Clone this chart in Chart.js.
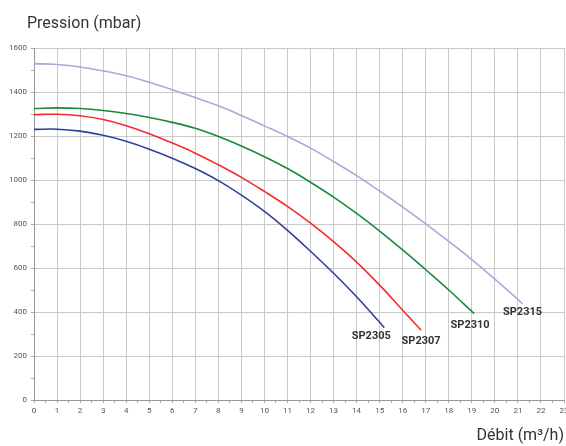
<!DOCTYPE html>
<html>
<head>
<meta charset="utf-8">
<script src="https://cdn.jsdelivr.net/npm/chart.js@4.4.1/dist/chart.umd.min.js"></script>
<style>
  body { margin: 0; background: #fff; }
  #wrap { width: 566px; height: 446px; position: relative; }
</style>
</head>
<body>
<div id="wrap"><canvas id="pump-chart" width="566" height="446"></canvas></div>
<script>
// Pump curves: pressure (mbar) vs flow (m3/h)

const seriesNames = ['SP2305', 'SP2307', 'SP2310', 'SP2315'];
const seriesColors = ['#2e409e', '#f22c2c', '#178a3e', '#b8a2d9'];

const flowSP2305 = [0, 1, 2, 3, 4, 5, 6, 7, 8, 9, 10, 11, 12, 13, 14, 15, 15.2];
const presSP2305 = [1230, 1231, 1222, 1203, 1176, 1140, 1099, 1052, 997, 931, 857, 771, 676, 576, 469, 353, 329];

const flowSP2307 = [0, 1, 2, 3, 4, 5, 6, 7, 8, 9, 10, 11, 12, 13, 14, 15, 16, 16.8];
const presSP2307 = [1297, 1299, 1292, 1275, 1247, 1210, 1168, 1122, 1069, 1012, 948, 880, 804, 720, 627, 522, 408, 317];

const flowSP2310 = [0, 1, 2, 3, 4, 5, 6, 7, 8, 9, 10, 11, 12, 13, 14, 15, 16, 17, 18, 19.1];
const presSP2310 = [1325, 1328, 1325, 1316, 1302, 1284, 1262, 1235, 1198, 1155, 1106, 1052, 990, 922, 848, 768, 682, 592, 500, 393];

const flowSP2315 = [0, 1, 2, 3, 4, 5, 6, 7, 8, 9, 10, 11, 12, 13, 14, 15, 16, 17, 18, 19, 20, 21, 21.2];
const presSP2315 = [1529, 1525, 1514, 1496, 1474, 1444, 1410, 1375, 1337, 1293, 1246, 1198, 1145, 1084, 1020, 950, 877, 801, 721, 638, 549, 457, 437];

const xTickMax = 23;
const yTickMax = 1600;

// label offsets from the last point of each curve
const labelOffsets = [[-13, 9], [0, 11], [-4, 12], [0, 8]];

const flows = [flowSP2305, flowSP2307, flowSP2310, flowSP2315];
const pressures = [presSP2305, presSP2307, presSP2310, presSP2315];

const datasets = seriesNames.map((name, i) => ({
    label: name,
    data: flows[i].map((x, j) => ({ x: x, y: pressures[i][j] })),
    borderColor: seriesColors[i],
    borderWidth: 1.6,
    pointRadius: 0,
    fill: false,
    tension: 0.4
}));

const curveLabels = {
    id: 'curveLabels',
    afterDatasetsDraw(chart) {
        const ctx = chart.ctx;
        ctx.save();
        ctx.font = 'bold 11px Roboto';
        ctx.fillStyle = '#333';
        ctx.textAlign = 'center';
        ctx.textBaseline = 'middle';
        chart.data.datasets.forEach((ds, i) => {
            const pts = chart.getDatasetMeta(i).data;
            const last = pts[pts.length - 1];
            ctx.fillText(ds.label, last.x + labelOffsets[i][0], last.y + labelOffsets[i][1]);
        });
        ctx.restore();
    }
};

const yTitle = {
    id: 'yTitle',
    afterDraw(chart) {
        const ctx = chart.ctx;
        ctx.save();
        ctx.font = '16px Roboto';
        ctx.fillStyle = '#333';
        ctx.textAlign = 'left';
        ctx.textBaseline = 'alphabetic';
        ctx.fillText('Pression (mbar)', 27, 28);
        ctx.restore();
    }
};

const ctx = document.getElementById('pump-chart').getContext('2d');

new Chart(ctx, {
    type: 'line',
    data: { datasets: datasets },
    plugins: [curveLabels, yTitle],
    options: {
        responsive: false,
        animation: false,
        layout: {
            padding: { top: 48, right: 2, left: 0, bottom: 0 }
        },
        plugins: {
            legend: { display: false },
            tooltip: { enabled: false }
        },
        scales: {
            x: {
                type: 'linear',
                min: 0,
                max: xTickMax,
                afterFit: function(scale) {
                    scale.height = 46;
                    scale.paddingLeft = 0;
                    scale.paddingRight = 0;
                },
                ticks: {
                    stepSize: 0.5,
                    autoSkip: false,
                    maxRotation: 0,
                    padding: 3,
                    color: '#555',
                    font: { family: 'Roboto', size: 8 },
                    callback: function(v) {
                        return Number.isInteger(v) ? String(v) : '';
                    }
                },
                grid: {
                    color: function(c) {
                        return Number.isInteger(c.tick.value) ? '#cacaca' : 'rgba(0,0,0,0)';
                    },
                    tickColor: '#aaa',
                    tickLength: 3
                },
                border: { color: '#999' },
                title: {
                    display: true,
                    text: 'Débit (m³/h)',
                    align: 'end',
                    color: '#333',
                    font: { family: 'Roboto', size: 16 },
                    padding: { top: 0, bottom: 0 }
                }
            },
            y: {
                min: 0,
                max: yTickMax,
                afterFit: function(scale) {
                    scale.width = 34;
                    scale.paddingTop = 0;
                    scale.paddingBottom = 0;
                },
                ticks: {
                    stepSize: 100,
                    autoSkip: false,
                    padding: 4,
                    color: '#555',
                    font: { family: 'Roboto', size: 8 },
                    callback: function(v) {
                        return v % 200 === 0 ? String(v) : '';
                    }
                },
                grid: {
                    color: function(c) {
                        return c.tick.value % 200 === 0 ? '#cacaca' : 'rgba(0,0,0,0)';
                    },
                    tickColor: '#aaa',
                    tickLength: 3
                },
                border: { color: '#999' }
            }
        }
    }
});
</script>
</body>
</html>
